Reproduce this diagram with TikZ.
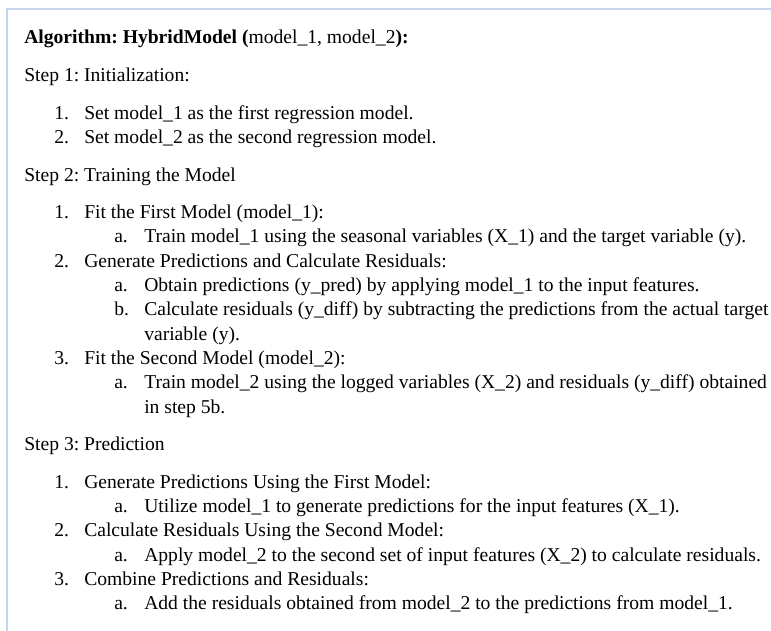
\documentclass[tikz,border=0pt]{standalone}
\usepackage{fontspec}
\setmainfont{Liberation Serif}
\frenchspacing
\definecolor{rulebl}{RGB}{197,212,234}
\tikzset{
  txt/.style  = {anchor=base west, inner sep=0pt, font=\fontsize{14.7}{17.6}\selectfont},
  num/.style  = {txt},
  rule/.style = {rulebl, line width=1.5pt},
}

\begin{document}
\begin{tikzpicture}[x=0.75pt,y=-0.75pt]
  \useasboundingbox (0,0) rectangle (771,631);
  \draw[rule] (6.5,631) -- (6.5,9.5) -- (771,9.5);
  \node[txt] (ttl) at (24,44) {\textbf{Algorithm: HybridModel (}model\_1, model\_2\textbf{):}};
  \node[txt] (st1) at (24,81.6) {Step 1: Initialization:};
  \node[num] (n11) at (54,119.2) {1.};
  \node[txt] (t11) at (84,119.2) {Set model\_1 as the first regression model.};
  \node[num] (n12) at (54,143.5) {2.};
  \node[txt] (t12) at (84,143.5) {Set model\_2 as the second regression model.};
  \node[txt] (st2) at (24,181.1) {Step 2: Training the Model};
  \node[num] (n21) at (54,218.7) {1.};
  \node[txt] (t21) at (84,218.7) {Fit the First Model (model\_1):};
  \node[num] (n21a) at (114,243) {a.};
  \node[txt] (t21a) at (144,243) {Train model\_1 using the seasonal variables (X\_1) and the target variable (y).};
  \node[num] (n22) at (54,267.3) {2.};
  \node[txt] (t22) at (84,267.3) {Generate Predictions and Calculate Residuals:};
  \node[num] (n22a) at (114,291.6) {a.};
  \node[txt] (t22a) at (144,291.6) {Obtain predictions (y\_pred) by applying model\_1 to the input features.};
  \node[num] (n22b) at (114,315.9) {b.};
  \node[txt] (t22b) at (144,315.9) {Calculate residuals (y\_diff) by subtracting the predictions from the actual target};
  \node[txt] (t22c) at (144,340.2) {variable (y).};
  \node[num] (n23) at (54,364.5) {3.};
  \node[txt] (t23) at (84,364.5) {Fit the Second Model (model\_2):};
  \node[num] (n23a) at (114,388.8) {a.};
  \node[txt] (t23a) at (144,388.8) {Train model\_2 using the logged variables (X\_2) and residuals (y\_diff) obtained};
  \node[txt] (t23b) at (144,413.1) {in step 5b.};
  \node[txt] (st3) at (24,450.7) {Step 3: Prediction};
  \node[num] (n31) at (54,488.3) {1.};
  \node[txt] (t31) at (84,488.3) {Generate Predictions Using the First Model:};
  \node[num] (n31a) at (114,512.6) {a.};
  \node[txt] (t31a) at (144,512.6) {Utilize model\_1 to generate predictions for the input features (X\_1).};
  \node[num] (n32) at (54,536.9) {2.};
  \node[txt] (t32) at (84,536.9) {Calculate Residuals Using the Second Model:};
  \node[num] (n32a) at (114,561.2) {a.};
  \node[txt] (t32a) at (144,561.2) {Apply model\_2 to the second set of input features (X\_2) to calculate residuals.};
  \node[num] (n33) at (54,585.5) {3.};
  \node[txt] (t33) at (84,585.5) {Combine Predictions and Residuals:};
  \node[num] (n33a) at (114,609.8) {a.};
  \node[txt] (t33a) at (144,609.8) {Add the residuals obtained from model\_2 to the predictions from model\_1.};
\end{tikzpicture}
\end{document}
